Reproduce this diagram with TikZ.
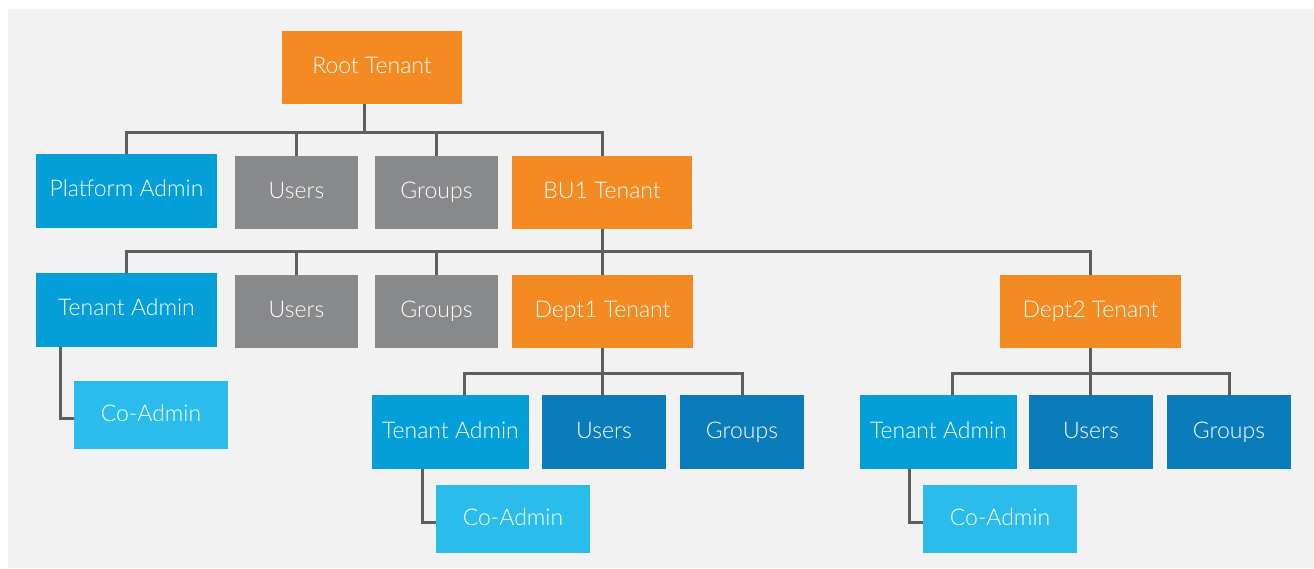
\documentclass[tikz,border=0pt]{standalone}
\usepackage{fontspec}
\setmainfont{Lato Light}
\definecolor{bgc}{HTML}{F2F2F2}
\definecolor{orangec}{HTML}{F48A22}
\definecolor{adminc}{HTML}{049FD9}
\definecolor{coadminc}{HTML}{2ABDEC}
\definecolor{darkbluec}{HTML}{0A7CBA}
\definecolor{grayc}{HTML}{88898B}
\definecolor{linec}{HTML}{5E5E5E}
\begin{document}
\begin{tikzpicture}[x=1pt,y=-1pt,
  box/.style={rectangle, inner sep=0pt, text=white, font=\fontsize{23}{26}\selectfont,
    text height=16pt, text depth=4pt},
  tenant/.style={box, fill=orangec, minimum width=180pt, minimum height=73pt},
  admin/.style={box, fill=adminc, minimum height=74pt},
  coadmin/.style={box, fill=coadminc, minimum width=154pt, minimum height=68pt},
  grp/.style={box, fill=grayc, minimum width=123pt, minimum height=73pt},
  dgrp/.style={box, fill=darkbluec, minimum width=124pt, minimum height=74pt},
  conn/.style={draw=linec, line width=3pt}]
\useasboundingbox (0,0) rectangle (1314,569);
\fill[white] (0,0) rectangle (1314,569);
\fill[bgc] (8,9) rectangle (1314,568);

% nodes
\node[tenant] (root) at (372,67.5) {Root Tenant};
\node[admin, minimum width=181pt] (pa) at (126.5,191) {Platform Admin};
\node[grp] (u1) at (296.5,192.5) {Users};
\node[grp] (g1) at (436.5,192.5) {Groups};
\node[tenant] (bu1) at (602,192.5) {BU1 Tenant};

\node[admin, minimum width=181pt] (ta1) at (126.5,310) {Tenant Admin};
\node[grp] (u2) at (296.5,311.5) {Users};
\node[grp] (g2) at (436.5,311.5) {Groups};
\node[tenant, minimum width=181pt] (d1) at (602.5,311.5) {Dept1 Tenant};
\node[tenant, minimum width=181pt] (d2) at (1090.5,311.5) {Dept2 Tenant};
\node[coadmin] (ca1) at (151,415) {Co-Admin};

\node[admin, minimum width=157pt] (ta2) at (450.5,432) {Tenant Admin};
\node[dgrp] (u3) at (604,432) {Users};
\node[dgrp] (g3) at (742,432) {Groups};
\node[coadmin] (ca2) at (513,519) {Co-Admin};

\node[admin, minimum width=157pt] (ta3) at (938.5,432) {Tenant Admin};
\node[dgrp] (u4) at (1091,432) {Users};
\node[dgrp] (g4) at (1229,432) {Groups};
\node[coadmin] (ca3) at (1000,519) {Co-Admin};

% level 1 connectors
\coordinate (b1) at (364,133);
\draw[conn] ([xshift=-8pt]root.south) -- (b1);
\draw[conn] (pa.north) |- (b1) -| (bu1.north);
\draw[conn] (u1.north) -- (u1.north |- b1);
\draw[conn] (g1.north) -- (g1.north |- b1);

% level 2 connectors
\coordinate (b2) at (602,252);
\draw[conn] (bu1.south) -- (b2);
\draw[conn] (ta1.north) |- (b2) -| (d2.north);
\draw[conn] (u2.north) -- (u2.north |- b2);
\draw[conn] (g2.north) -- (g2.north |- b2);
\draw[conn] (d1.north) -- (d1.north |- b2);

% dept1 children
\coordinate (b3) at (602.5,373);
\draw[conn] (d1.south) -- (d1.south |- u3.north);
\draw[conn] ([xshift=13.5pt]ta2.north) |- (b3) -| (g3.north);

% dept2 children
\coordinate (b4) at (1090.5,373);
\draw[conn] (d2.south) -- (d2.south |- u4.north);
\draw[conn] ([xshift=13.5pt]ta3.north) |- (b4) -| (g4.north);

% co-admin connectors
\draw[conn] ([xshift=25pt]ta1.south west) |- ([yshift=-3pt]ca1.west);
\draw[conn] ([xshift=51pt]ta2.south west) |- ([yshift=-3pt]ca2.west);
\draw[conn] ([xshift=50pt]ta3.south west) |- ([yshift=-3pt]ca3.west);
\end{tikzpicture}
\end{document}
